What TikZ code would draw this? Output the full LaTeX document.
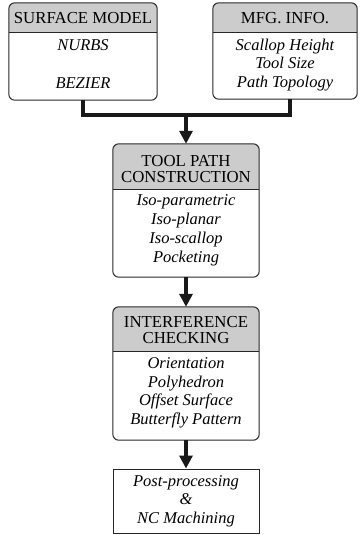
\documentclass[tikz,border=0pt]{standalone}
\usepackage{fontspec}
\setmainfont{Liberation Serif}
\usetikzlibrary{arrows.meta,positioning}

\begin{document}
\begin{tikzpicture}[
    x=1pt, y=-1pt,
    >={Triangle[length=13pt,width=13pt]},
    panel/.style={inner sep=0pt},
    rim/.style={draw=black!85, line width=1pt},
    headfill/.style={fill=black!20},
    link/.style={line width=3.2pt, black!90},
    head/.style={font=\fontsize{16.8}{16.5}\selectfont, align=center, inner sep=0pt},
    item/.style={font=\fontsize{16.5}{18.5}\selectfont\itshape, align=center, inner sep=0pt}
]
    \useasboundingbox (0,0) rectangle (359,535);

    % rounded panels with a grey title band
    \foreach \n/\cx/\top/\bot/\hb/\w in {surf/83/3/100/33/148, mfg/285/3/99/33/144,
                                          tpc/186/144/277/189/146, ichk/186/307/440/351/146}{
        \node[panel, minimum width=\w, minimum height=\bot-\top] (\n) at (\cx,{(\top+\bot)/2}) {};
        \begin{scope}
            \clip[rounded corners=6] (\n.north west) rectangle (\n.south east);
            \fill[headfill] (\n.north west) rectangle (\n.east |- 0,\hb);
        \end{scope}
        \draw[rim] (\n.west |- 0,\hb) -- (\n.east |- 0,\hb);
        \draw[rim, rounded corners=6] (\n.north west) rectangle (\n.south east);
    }

    \node[head] (surf-head) at (83,18.5) {SURFACE MODEL};
    \node[item] (surf-body) at (83,64) {NURBS\\[19.5pt]BEZIER};

    \node[head] (mfg-head) at (285,18.5) {MFG. INFO.};
    \node[item] (mfg-body) at (285,65) {Scallop Height\\Tool Size\\Path Topology};

    \node[head] (tpc-head) at (186,169) {TOOL PATH\\CONSTRUCTION};
    \node[item, font=\fontsize{16.5}{19}\selectfont\itshape] (tpc-body) at (186,230) {Iso-parametric\\Iso-planar\\Iso-scallop\\Pocketing};

    \node[head] (ichk-head) at (186,330) {INTERFERENCE\\CHECKING};
    \node[item] (ichk-body) at (186,393) {Orientation\\Polyhedron\\Offset Surface\\Butterfly Pattern};

    \node[rim, item, minimum width=146, minimum height=64] (post) at (186,501)
        {Post-processing\\\&\\NC Machining};

    % connectors
    \coordinate (join) at (186,115);
    \draw[link] (surf.south) |- (join);
    \draw[link] ([xshift=5pt]mfg.south) |- (join);
    \draw[link, ->] ([yshift=1.6pt]join) -- (tpc.north);
    \draw[link, ->] (tpc.south) -- (ichk.north);
    \draw[link, ->] (ichk.south) -- (post.north);
\end{tikzpicture}
\end{document}
